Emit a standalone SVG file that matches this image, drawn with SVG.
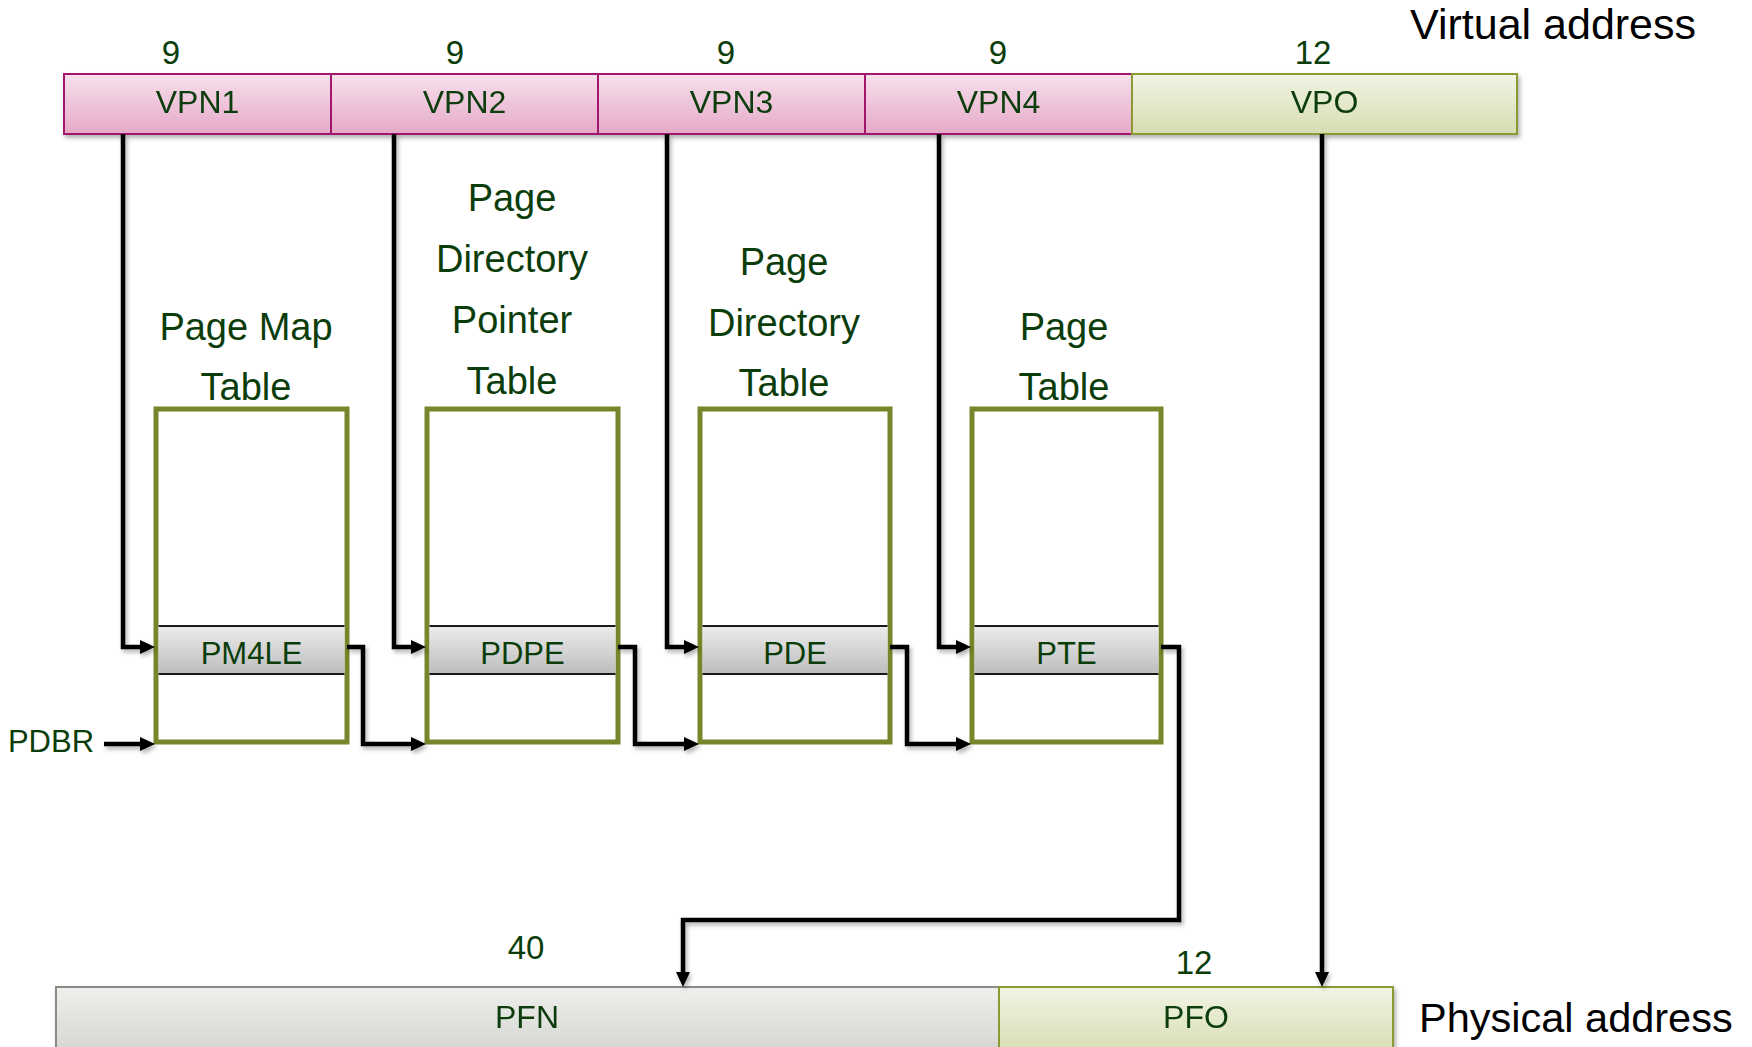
<svg xmlns="http://www.w3.org/2000/svg" width="1752" height="1047" viewBox="0 0 1752 1047">
<defs>
  <linearGradient id="gPink" x1="0" y1="0" x2="0" y2="1">
    <stop offset="0" stop-color="#f6e0ec"/>
    <stop offset="1" stop-color="#e6a9c8"/>
  </linearGradient>
  <linearGradient id="gOlive" x1="0" y1="0" x2="0" y2="1">
    <stop offset="0" stop-color="#f1f4e4"/>
    <stop offset="1" stop-color="#d7dcb2"/>
  </linearGradient>
  <linearGradient id="gGray" x1="0" y1="0" x2="0" y2="1">
    <stop offset="0" stop-color="#efefed"/>
    <stop offset="1" stop-color="#d3d3cf"/>
  </linearGradient>
  <linearGradient id="gEntry" x1="0" y1="0" x2="0" y2="1">
    <stop offset="0" stop-color="#ececec"/>
    <stop offset="1" stop-color="#bdbdbd"/>
  </linearGradient>
  <filter id="sh" x="-5%" y="-5%" width="115%" height="130%">
    <feDropShadow dx="2" dy="3" stdDeviation="2" flood-color="#000" flood-opacity="0.3"/>
  </filter>
  <marker id="arr" markerUnits="userSpaceOnUse" markerWidth="15" markerHeight="15" refX="0" refY="7" orient="auto">
    <path d="M0,0 L15,7 L0,14 z" fill="#000"/>
  </marker>
</defs>
<style>
  .t { font-family: "Liberation Sans", Arial, sans-serif; fill: #0b3d0b; text-anchor: middle; }
  .bar { font-size: 32px; }
  .num { font-size: 33px; }
  .lbl { font-size: 38px; }
  .ent { font-size: 31px; }
  .big { font-family: "Liberation Sans", Arial, sans-serif; fill: #000; font-size: 43px; }
  .big2 { font-size: 41.5px; }
  .vpn { fill: url(#gPink); stroke: #a3126e; stroke-width: 2; }
  .vpo { fill: url(#gOlive); stroke: #8a9a36; stroke-width: 2; }
  .pfn { fill: url(#gGray); stroke: #8a8a86; stroke-width: 2; }
  .tbl { fill: #fff; stroke: #76862a; stroke-width: 5; }
  .entry { fill: url(#gEntry); }
  .eline { stroke: #1a1a1a; stroke-width: 2; }
  .conn { fill: none; stroke: #000; stroke-width: 4.5; stroke-linejoin: miter; }
</style>

<text class="big" x="1410" y="39">Virtual address</text>
<text class="big big2" x="1419" y="1032">Physical address</text>

<g id="vaddr" filter="url(#sh)">
  <g id="vpn1"><rect class="vpn" x="64" y="74" width="267" height="60"/><text class="t bar" x="197.5" y="113">VPN1</text></g>
  <g id="vpn2"><rect class="vpn" x="331" y="74" width="267" height="60"/><text class="t bar" x="464.5" y="113">VPN2</text></g>
  <g id="vpn3"><rect class="vpn" x="598" y="74" width="267" height="60"/><text class="t bar" x="731.5" y="113">VPN3</text></g>
  <g id="vpn4"><rect class="vpn" x="865" y="74" width="267" height="60"/><text class="t bar" x="998.5" y="113">VPN4</text></g>
  <g id="vpo"><rect class="vpo" x="1132" y="74" width="385" height="60"/><text class="t bar" x="1324.5" y="113">VPO</text></g>
</g>
<g id="vbits">
  <text class="t num" x="171" y="64">9</text>
  <text class="t num" x="455" y="64">9</text>
  <text class="t num" x="726" y="64">9</text>
  <text class="t num" x="998" y="64">9</text>
  <text class="t num" x="1313" y="64">12</text>
</g>

<g id="labels">
  <text class="t lbl" x="246" y="340">Page Map</text>
  <text class="t lbl" x="246" y="400">Table</text>
  <text class="t lbl" x="512" y="211">Page</text>
  <text class="t lbl" x="512" y="272">Directory</text>
  <text class="t lbl" x="512" y="333">Pointer</text>
  <text class="t lbl" x="512" y="394">Table</text>
  <text class="t lbl" x="784" y="275">Page</text>
  <text class="t lbl" x="784" y="336">Directory</text>
  <text class="t lbl" x="784" y="396">Table</text>
  <text class="t lbl" x="1064" y="340">Page</text>
  <text class="t lbl" x="1064" y="400">Table</text>
</g>

<g id="pml4">
  <rect class="tbl" x="156" y="409" width="191" height="333"/>
  <rect class="entry" x="158.5" y="626" width="186" height="48"/>
  <line class="eline" x1="158.5" y1="626" x2="344.5" y2="626"/><line class="eline" x1="158.5" y1="674" x2="344.5" y2="674"/>
  <text class="t ent" x="251.5" y="664">PM4LE</text>
</g>
<g id="pdpt">
  <rect class="tbl" x="427" y="409" width="191" height="333"/>
  <rect class="entry" x="429.5" y="626" width="186" height="48"/>
  <line class="eline" x1="429.5" y1="626" x2="615.5" y2="626"/><line class="eline" x1="429.5" y1="674" x2="615.5" y2="674"/>
  <text class="t ent" x="522.5" y="664">PDPE</text>
</g>
<g id="pd">
  <rect class="tbl" x="700" y="409" width="190" height="333"/>
  <rect class="entry" x="702.5" y="626" width="185" height="48"/>
  <line class="eline" x1="702.5" y1="626" x2="887.5" y2="626"/><line class="eline" x1="702.5" y1="674" x2="887.5" y2="674"/>
  <text class="t ent" x="795" y="664">PDE</text>
</g>
<g id="pt">
  <rect class="tbl" x="972" y="409" width="189" height="333"/>
  <rect class="entry" x="974.5" y="626" width="184" height="48"/>
  <line class="eline" x1="974.5" y1="626" x2="1158.5" y2="626"/><line class="eline" x1="974.5" y1="674" x2="1158.5" y2="674"/>
  <text class="t ent" x="1066.5" y="664">PTE</text>
</g>

<g id="pdbr"><text class="t ent" x="51" y="752">PDBR</text></g>

<g id="paddr" filter="url(#sh)">
  <g id="pfn"><rect class="pfn" x="56" y="987" width="943" height="70"/><text class="t bar" x="527" y="1028">PFN</text></g>
  <g id="pfo"><rect class="vpo" x="999" y="987" width="394" height="70"/><text class="t bar" x="1196" y="1028">PFO</text></g>
</g>
<g id="pbits">
  <text class="t num" x="526" y="959">40</text>
  <text class="t num" x="1194" y="974">12</text>
</g>

<g id="connectors" filter="url(#sh)">
  <path class="conn" d="M123,134 V647 H140" marker-end="url(#arr)"/>
  <path class="conn" d="M394,134 V647 H411" marker-end="url(#arr)"/>
  <path class="conn" d="M667,134 V647 H684" marker-end="url(#arr)"/>
  <path class="conn" d="M939,134 V647 H956" marker-end="url(#arr)"/>
  <path class="conn" d="M104,744 H140" marker-end="url(#arr)"/>
  <path class="conn" d="M347,647 H363 V744 H411" marker-end="url(#arr)"/>
  <path class="conn" d="M618,647 H635 V744 H684" marker-end="url(#arr)"/>
  <path class="conn" d="M890,647 H907 V744 H956" marker-end="url(#arr)"/>
  <path class="conn" d="M1161,647 H1179 V920 H683 V972" marker-end="url(#arr)"/>
  <path class="conn" d="M1322,134 V972" marker-end="url(#arr)"/>
</g>
</svg>
